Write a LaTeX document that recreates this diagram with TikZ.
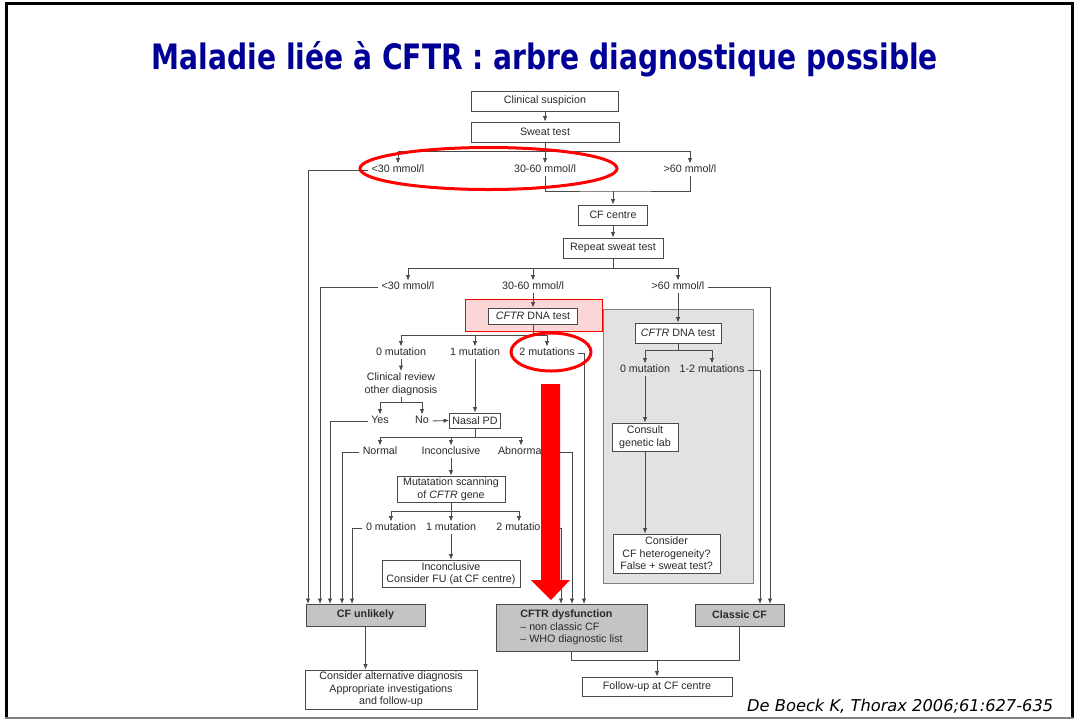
\documentclass[tikz,border=0pt]{standalone}
\usepackage{fontspec}
\setmainfont{Liberation Sans}
\newfontfamily\titlefont{DejaVu Sans}
\usetikzlibrary{arrows.meta}
\definecolor{lc}{HTML}{4A4A4A}
\definecolor{tc}{HTML}{2A2A2A}
\definecolor{gfill}{HTML}{C4C4C4}
\definecolor{pfill}{HTML}{E2E2E2}
\definecolor{navy}{RGB}{0,0,150}
\definecolor{hlfill}{HTML}{FAD6D6}
\definecolor{rd}{HTML}{FF0000}
\begin{document}
\begin{tikzpicture}[x=1pt,y=-1pt,
  font=\fontsize{10.7}{12.5}\selectfont,
  box/.style={draw=lc, fill=white, line width=0.8pt, inner sep=0pt, align=center, text=tc},
  gbox/.style={box, fill=gfill},
  lbl/.style={inner sep=1.5pt, text height=7.5pt, text depth=2pt, text=tc},
  ln/.style={draw=lc, line width=0.85pt},
  arr/.style={ln, -{Latex[length=5.5pt,width=4.5pt]}},
  sarr/.style={arr, shorten <=2pt}]
\useasboundingbox (0,0) rectangle (1076,721);
\fill[white] (0,0) rectangle (1076,721);
% slide frame
\draw[black, line width=3pt] (6,718) -- (6,3.5) -- (1072,3.5) -- (1072,718);
\draw[gray, line width=2pt] (5,718) -- (1073,718);
% title
\node[anchor=base, text=navy] (title) at (545,69)
  {\resizebox{786pt}{28pt}{\titlefont\bfseries Maladie liée à CFTR : arbre diagnostique possible}};
% citation
\node[anchor=base west, inner sep=0pt] (cite) at (747,711)
  {\resizebox{306pt}{!}{\titlefont\itshape De Boeck K, Thorax 2006;61:627-635}};

% grey panel and highlight
\node[draw=gray, fill=pfill, line width=0.8pt, minimum width=150pt, minimum height=274pt, inner sep=0pt] (panel) at (678,446) {};
\node[draw=rd, fill=hlfill, line width=1pt, minimum width=137pt, minimum height=32pt, inner sep=0pt] (hl) at (533.5,315) {};

% boxes
\node[box, minimum width=147pt, minimum height=20pt] (clin) at (545,101) {Clinical suspicion};
\node[box, minimum width=148pt, minimum height=20pt] (sweat) at (545,132) {Sweat test};
\node[box, minimum width=69pt, minimum height=20pt] (cfc) at (613,215) {CF centre};
\node[box, minimum width=100pt, minimum height=20pt] (rst) at (613,248) {Repeat sweat test};
\node[box, minimum width=89pt, minimum height=16pt] (dna1) at (533,316) {\emph{CFTR} DNA test};
\node[box, minimum width=86pt, minimum height=20pt] (dna2) at (678,333) {\emph{CFTR} DNA test};
\node[box, minimum width=66pt, minimum height=28pt] (consult) at (645,437) {Consult\\genetic lab};
\node[box, minimum width=107pt, minimum height=39pt] (consider) at (666.5,553.5) {Consider\\CF heterogeneity?\\False + sweat test?};
\node[box, minimum width=51pt, minimum height=15pt] (npd) at (475,420.5) {Nasal PD};
\node[box, minimum width=108pt, minimum height=26pt] (mscan) at (451,489) {Mutatation scanning\\of \emph{CFTR} gene};
\node[box, minimum width=138pt, minimum height=27pt] (inc2) at (451,573.5) {Inconclusive\\Consider FU (at CF centre)};
\node[gbox, minimum width=119pt, minimum height=22pt] (cfu) at (365.5,615) {\textbf{CF unlikely}};
\node[gbox, minimum width=151pt, minimum height=47pt, align=left] (cfd) at (571.5,627.5)
  {\textbf{CFTR dysfunction}\\\textendash\ non classic CF\\\textendash\ WHO diagnostic list};
\node[gbox, minimum width=89pt, minimum height=22pt] (ccf) at (739.5,615) {\textbf{Classic CF}};
\node[box, minimum width=172pt, minimum height=39pt] (alt) at (391,689.5) {Consider alternative diagnosis\\Appropriate investigations\\and follow-up};
\node[box, minimum width=150pt, minimum height=19pt] (fu) at (657,686.5) {Follow-up at CF centre};

% labels
\node[lbl] (lt30a) at (398,170) {<30 mmol/l};
\node[lbl] (mid30a) at (545,170) {30-60 mmol/l};
\node[lbl] (gt60a) at (690,170) {>60 mmol/l};
\node[lbl] (lt30b) at (408,287) {<30 mmol/l};
\node[lbl] (mid30b) at (533,287) {30-60 mmol/l};
\node[lbl] (gt60b) at (678,287) {>60 mmol/l};
\node[lbl] (m0c) at (645,370) {0 mutation};
\node[lbl] (m12c) at (712,370) {1-2 mutations};
\node[lbl] (m0a) at (401,353) {0 mutation};
\node[lbl] (m1a) at (475,353) {1 mutation};
\node[lbl] (m2a) at (547,353) {2 mutations};
\node[inner sep=1.5pt, text=tc, align=center] (crev) at (401,384) {Clinical review\\other diagnosis};
\node[lbl] (yes) at (380,421) {Yes};
\node[lbl] (no) at (422,421) {No};
\node[lbl] (normal) at (380,452) {Normal};
\node[lbl] (incon) at (451,452) {Inconclusive};
\node[lbl] (abn) at (521,452) {Abnormal};
\node[lbl] (m0b) at (391,528) {0 mutation};
\node[lbl] (m1b) at (451,528) {1 mutation};
\node[lbl] (m2b) at (524,528) {2 mutations};

% drop points on the result boxes
\coordinate (cfu1) at (308,604);
\coordinate (cfu2) at (320,604);
\coordinate (cfu3) at (330,604);
\coordinate (cfu4) at (342,604);
\coordinate (cfu5) at (352,604);
\coordinate (cfd1) at (561,604);
\coordinate (cfd2) at (572,604);
\coordinate (cfd3) at (584,604);
\coordinate (ccf1) at (760,604);
\coordinate (ccf2) at (770,604);

% connectors
\draw[arr] (clin.south) -- (sweat.north);
\coordinate (br1) at (545,151);
\draw[ln] (sweat.south) -- (br1);
\draw[arr] (br1) -| (lt30a.north);
\draw[arr] (br1) -- (mid30a.north);
\draw[arr] (br1) -| (gt60a.north);
\coordinate (j1) at (613,191);
\draw[ln] (mid30a.south) |- (j1) -| (gt60a.south);
\draw[arr] (j1) -- (cfc.north);
\draw[arr] (cfc.south) -- (rst.north);
\coordinate (br2) at (613,268);
\draw[ln] (rst.south) -- (br2);
\draw[arr] (br2) -| (lt30b.north);
\draw[arr] (br2) -| (mid30b.north);
\draw[arr] (br2) -| (gt60b.north);
\draw[sarr] (lt30a.west) -| (cfu1);
\draw[sarr] (lt30b.west) -| (cfu2);
\draw[sarr] (gt60b.east) -| (ccf2);
\draw[arr] (mid30b.south) -- (dna1.north);
\draw[arr] (gt60b.south) -- (dna2.north);
\coordinate (br3) at (678,350);
\draw[ln] (dna2.south) -- (br3);
\draw[arr] (br3) -| (m0c.north);
\draw[arr] (br3) -| (m12c.north);
\draw[sarr] (m12c.east) -| (ccf1);
\draw[arr] (m0c.south) -- (consult.north);
\draw[arr] (consult.south) -- (consult.south |- consider.north);
\coordinate (br4) at (533,335);
\draw[ln] (dna1.south) -- (br4);
\draw[arr] (br4) -| (m0a.north);
\draw[arr] (br4) -| (m1a.north);
\draw[arr] (br4) -| (m2a.north);
\draw[sarr] (m2a.east) -| (cfd3);
\draw[arr] (m0a.south) -- (crev.north);
\coordinate (br5) at (401,402);
\draw[ln] (crev.south) -- (br5);
\draw[arr] (br5) -| (yes.north);
\draw[arr] (br5) -| (no.north);
\draw[sarr] (yes.west) -| (cfu3);
\draw[sarr] (no.east) -- (npd.west);
\draw[arr] (m1a.south) -- (npd.north);
\coordinate (br6) at (475,437);
\draw[ln] (npd.south) -- (br6);
\draw[arr] (br6) -| (normal.north);
\draw[arr] (br6) -| (incon.north);
\draw[arr] (br6) -| (abn.north);
\draw[sarr] (normal.west) -| (cfu4);
\draw[sarr] (abn.east) -| (cfd2);
\draw[arr] (incon.south) -- (mscan.north);
\coordinate (br7) at (451,511);
\draw[ln] (mscan.south) -- (br7);
\draw[arr] (br7) -| (m0b.north);
\draw[arr] (br7) -- (m1b.north);
\draw[arr] (br7) -| ([xshift=-5pt]m2b.north);
\draw[sarr] (m0b.west) -| (cfu5);
\draw[arr] (m1b.south) -- (inc2.north);
\draw[sarr] (m2b.east) -| (cfd1);
\draw[arr] (cfu.south) -- (cfu.south |- alt.north);
\coordinate (j2) at (657,660);
\draw[ln] (cfd.south) |- (j2) -| (ccf.south);
\draw[arr] (j2) -- (fu.north);

% red highlights
\draw[rd, line width=3pt] (488.5,168.5) ellipse [x radius=128.5pt, y radius=21pt];
\draw[rd, line width=3pt] (551,352) ellipse [x radius=40pt, y radius=19pt];
\fill[rd] (541,384) -- (560,384) -- (560,580) -- (570,580) -- (551,600) -- (531,580) -- (541,580) -- cycle;
\end{tikzpicture}
\end{document}
